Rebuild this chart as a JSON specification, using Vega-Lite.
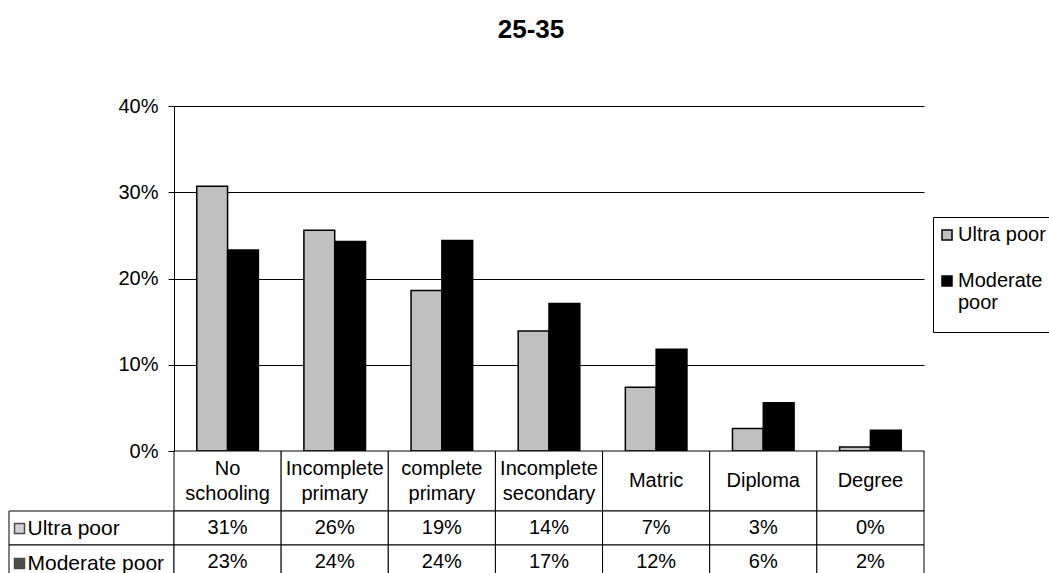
{
  "$schema": "https://vega.github.io/schema/vega-lite/v6.json",
  "background": "white",
  "padding": {"left": 8, "top": 17, "right": 0, "bottom": 0},
  "config": {
    "view": {"stroke": null},
    "font": "Liberation Sans",
    "axis": {
      "labelFont": "Liberation Sans",
      "labelFontSize": 20,
      "labelColor": "black",
      "domainColor": "black",
      "tickColor": "black",
      "gridColor": "black"
    },
    "legend": {
      "labelFont": "Liberation Sans",
      "labelFontSize": 20,
      "labelColor": "black"
    }
  },
  "datasets": {
    "shares": [
      {"level": "No schooling", "group": "Ultra poor", "share": 0.307},
      {"level": "Incomplete primary", "group": "Ultra poor", "share": 0.256},
      {"level": "complete primary", "group": "Ultra poor", "share": 0.186},
      {"level": "Incomplete secondary", "group": "Ultra poor", "share": 0.139},
      {"level": "Matric", "group": "Ultra poor", "share": 0.074},
      {"level": "Diploma", "group": "Ultra poor", "share": 0.026},
      {"level": "Degree", "group": "Ultra poor", "share": 0.0046},
      {"level": "No schooling", "group": "Moderate poor", "share": 0.233},
      {"level": "Incomplete primary", "group": "Moderate poor", "share": 0.243},
      {"level": "complete primary", "group": "Moderate poor", "share": 0.244},
      {"level": "Incomplete secondary", "group": "Moderate poor", "share": 0.171},
      {"level": "Matric", "group": "Moderate poor", "share": 0.118},
      {"level": "Diploma", "group": "Moderate poor", "share": 0.056},
      {"level": "Degree", "group": "Moderate poor", "share": 0.024}
    ],
    "levels": [
      {"level": "No schooling"},
      {"level": "Incomplete primary"},
      {"level": "complete primary"},
      {"level": "Incomplete secondary"},
      {"level": "Matric"},
      {"level": "Diploma"},
      {"level": "Degree"}
    ],
    "groups": [
      {"group": "Ultra poor"},
      {"group": "Moderate poor"}
    ]
  },
  "columns": 2,
  "spacing": 0,
  "bounds": "flush",
  "resolve": {
    "scale": {"x": "independent", "y": "independent", "color": "independent"},
    "legend": {"color": "independent"}
  },
  "concat": [
    {
      "width": 165,
      "height": 345,
      "data": {"values": []},
      "mark": "rect",
      "encoding": {}
    },
    {
      "width": 750,
      "height": 345,
      "data": {"name": "shares"},
      "title": {
        "text": "25-35",
        "font": "Liberation Sans",
        "fontSize": 26,
        "fontWeight": "bold",
        "color": "black",
        "offset": 53,
        "dx": -18
      },
      "mark": {"type": "bar", "stroke": "black", "strokeWidth": 1.5},
      "encoding": {
        "x": {
          "field": "level",
          "type": "nominal",
          "sort": ["No schooling", "Incomplete primary", "complete primary", "Incomplete secondary", "Matric", "Diploma", "Degree"],
          "scale": {"paddingInner": 0, "paddingOuter": 0},
          "axis": null
        },
        "xOffset": {
          "field": "group",
          "type": "nominal",
          "sort": ["Ultra poor", "Moderate poor"],
          "scale": {"paddingInner": 0, "paddingOuter": 0.739}
        },
        "y": {
          "field": "share",
          "type": "quantitative",
          "scale": {"domain": [0, 0.4]},
          "axis": {
            "values": [0, 0.1, 0.2, 0.3, 0.4],
            "format": ".0%",
            "title": null,
            "grid": true,
            "gridOpacity": 1,
            "tickSize": 6,
            "labelPadding": 10
          }
        },
        "color": {
          "field": "group",
          "type": "nominal",
          "scale": {"domain": ["Ultra poor", "Moderate poor"], "range": ["#c0c0c0", "#000000"]},
          "legend": {
            "orient": "none",
            "legendX": 759,
            "legendY": 111,
            "title": " ",
            "titleOrient": "bottom",
            "titleFontSize": 10,
            "titlePadding": 1,
            "strokeColor": "black",
            "fillColor": "white",
            "padding": 8,
            "symbolType": "square",
            "symbolSize": 100,
            "symbolStrokeColor": "black",
            "symbolStrokeWidth": 1.5,
            "symbolOffset": -4,
            "labelOffset": 1,
            "rowPadding": 26,
            "labelExpr": "datum.label == 'Moderate poor' ? ['Moderate', 'poor'] : datum.label"
          }
        }
      }
    },
    {
      "width": 165,
      "height": 60,
      "data": {"values": []},
      "mark": "rect",
      "encoding": {}
    },
    {
      "width": 750,
      "height": 60,
      "data": {"name": "levels"},
      "encoding": {
        "x": {
          "field": "level",
          "type": "nominal",
          "sort": ["No schooling", "Incomplete primary", "complete primary", "Incomplete secondary", "Matric", "Diploma", "Degree"],
          "scale": {"paddingInner": 0, "paddingOuter": 0},
          "axis": null
        }
      },
      "layer": [
        {"mark": {"type": "rect", "fill": "white", "stroke": "black", "strokeWidth": 1}},
        {
          "transform": [{"filter": "indexof(datum.level, ' ') >= 0"}],
          "mark": {"type": "text", "fontSize": 20, "lineBreak": " ", "lineHeight": 25, "color": "black", "baseline": "middle", "dy": -12.5},
          "encoding": {"text": {"field": "level"}}
        },
        {
          "transform": [{"filter": "indexof(datum.level, ' ') < 0"}],
          "mark": {"type": "text", "fontSize": 20, "color": "black", "baseline": "middle"},
          "encoding": {"text": {"field": "level"}}
        }
      ]
    },
    {
      "width": 165,
      "height": 68,
      "data": {"name": "groups"},
      "encoding": {
        "y": {
          "field": "group",
          "type": "nominal",
          "sort": ["Ultra poor", "Moderate poor"],
          "scale": {"paddingInner": 0, "paddingOuter": 0},
          "axis": null
        }
      },
      "layer": [
        {
          "mark": {"type": "square", "stroke": "black", "strokeWidth": 1.5},
          "encoding": {
            "color": {
              "field": "group",
              "type": "nominal",
              "scale": {"domain": ["Ultra poor", "Moderate poor"], "range": ["#c0c0c0", "#000000"]},
              "legend": {
                "orient": "none",
                "legendX": 0,
                "legendY": 7,
                "title": null,
                "padding": 0,
                "symbolType": "square",
                "symbolSize": 100,
                "symbolStrokeColor": "black",
                "symbolStrokeWidth": 1.5,
                "labelFontSize": 21,
                "labelOffset": -2.5,
                "rowPadding": 13
              }
            }
          }
        },
        {"mark": {"type": "rect", "fill": "white", "stroke": "black", "strokeWidth": 1}}
      ]
    },
    {
      "width": 750,
      "height": 68,
      "data": {"name": "shares"},
      "encoding": {
        "x": {
          "field": "level",
          "type": "nominal",
          "sort": ["No schooling", "Incomplete primary", "complete primary", "Incomplete secondary", "Matric", "Diploma", "Degree"],
          "scale": {"paddingInner": 0, "paddingOuter": 0},
          "axis": null
        },
        "y": {
          "field": "group",
          "type": "nominal",
          "sort": ["Ultra poor", "Moderate poor"],
          "scale": {"paddingInner": 0, "paddingOuter": 0},
          "axis": null
        }
      },
      "layer": [
        {"mark": {"type": "rect", "fill": "white", "stroke": "black", "strokeWidth": 1}},
        {
          "mark": {"type": "text", "fontSize": 20, "color": "black"},
          "encoding": {"text": {"field": "share", "format": ".0%"}}
        }
      ]
    }
  ]
}
